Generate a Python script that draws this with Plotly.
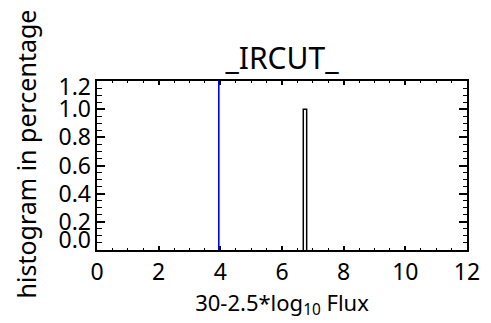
import plotly.graph_objects as go

# ---- data ----
bin_left = [6.69]
bin_right = [6.80]
hist_values = [1.0]
cut_value = 3.95
x_range = [0, 12]
y_range = [0, 1.2]
y_ticks = [0.0, 0.2, 0.4, 0.6, 0.8, 1.0, 1.2]
y_tick_text = ["0.0", "0.2", "0.4", "0.6", "0.8", "1.0", "1.2"]
title_text = "_IRCUT_"
x_title = "30-2.5*log<sub>10</sub> Flux"
y_title = "histogram in percentage"

FONT = "Noto Sans"
W, H = 491, 323
ML, MR, MT, MB = 97, 24, 81, 73

# histogram outline (step) built from bins
hx, hy = [], []
for l, r, v in zip(bin_left, bin_right, hist_values):
    hx += [l, l, r, r]
    hy += [0, v, v, 0]

fig = go.Figure()
fig.add_trace(go.Scatter(x=hx, y=hy, mode="lines",
                         line=dict(color="black", width=1.5),
                         hoverinfo="skip", showlegend=False))
# empty trace so the label axis (y2) is rendered
fig.add_trace(go.Scatter(x=[None], y=[None], yaxis="y2", showlegend=False,
                         hoverinfo="skip"))
fig.add_vline(x=cut_value, line=dict(color="#0000ff", width=1.6))

# IDL nudges the end labels inward
label_vals = list(y_ticks)
label_vals[0] = y_ticks[0] + 0.07
label_vals[-1] = y_ticks[-1] - 0.04

plot_w = W - ML - MR
plot_h = H - MT - MB

fig.update_layout(
    width=W, height=H,
    margin=dict(l=ML, r=MR, t=MT, b=MB, autoexpand=False),
    plot_bgcolor="white", paper_bgcolor="white",
    showlegend=False,
    font=dict(family=FONT, color="black", size=23),
    title=dict(text=title_text, x=0.5, xref="paper", xanchor="center",
               y=1 - 58 / H, yref="container", yanchor="middle",
               font=dict(family=FONT, size=30, color="black")),
    xaxis=dict(range=x_range, tickmode="linear", tick0=0, dtick=2,
               ticks="inside", ticklen=4, tickwidth=1.5, tickcolor="black",
               minor=dict(dtick=0.5, tick0=0, ticks="inside", ticklen=2,
                          tickwidth=1, tickcolor="black"),
               showline=True, linewidth=2, linecolor="black", mirror="ticks",
               showgrid=False, zeroline=False,
               tickfont=dict(size=23),
               title=dict(text=x_title, font=dict(size=22), standoff=1)),
    yaxis=dict(range=y_range, tickmode="linear", tick0=0, dtick=0.2,
               ticks="inside", ticklen=8, tickwidth=1.5, tickcolor="black",
               minor=dict(dtick=0.05, tick0=0, ticks="inside", ticklen=4.5,
                          tickwidth=1, tickcolor="black"),
               showticklabels=False,
               showline=True, linewidth=2, linecolor="black", mirror="ticks",
               showgrid=False, zeroline=False),
    yaxis2=dict(range=y_range, overlaying="y", side="left", anchor="x",
                tickmode="array", tickvals=label_vals, ticktext=y_tick_text,
                ticks="", ticklabelstandoff=5,
                showline=False, showgrid=False, zeroline=False,
                tickfont=dict(size=23)),
    annotations=[dict(text=y_title, textangle=-90,
                      x=(25 - ML) / plot_w, xref="paper", xanchor="center",
                      y=(H - MB - 154.5) / plot_h, yref="paper", yanchor="middle",
                      showarrow=False, font=dict(size=25))],
)

fig.write_html("out.html", config={"displayModeBar": False},
               post_script="document.body.style.margin='0';")
